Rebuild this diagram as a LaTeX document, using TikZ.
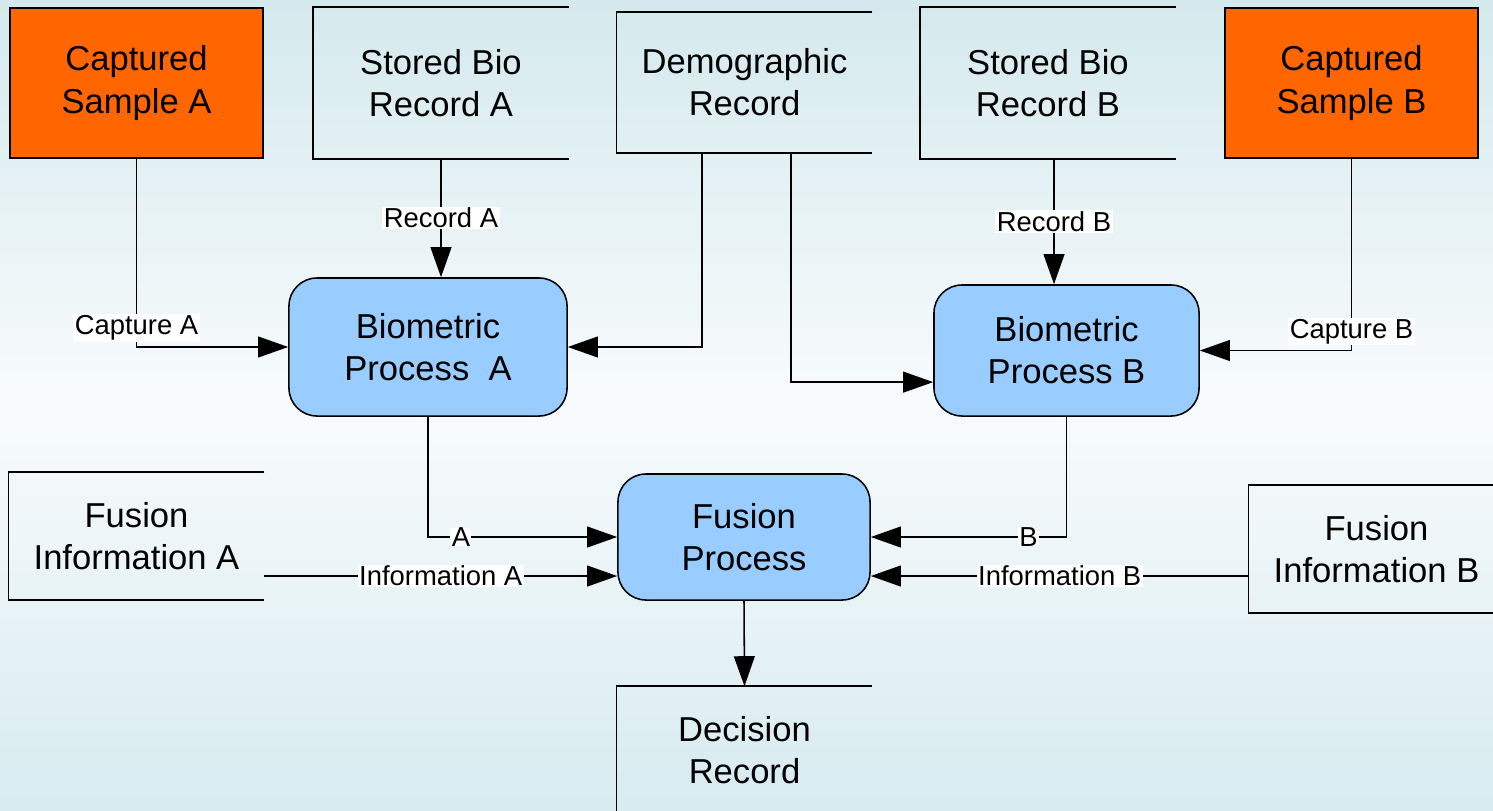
\documentclass[tikz,border=0pt]{standalone}
\usepackage{fontspec}
\setmainfont{Liberation Sans}
\usetikzlibrary{arrows.meta}
\usetikzlibrary{positioning}
\definecolor{samplered}{HTML}{FF6600}
\definecolor{procblue}{HTML}{99CCFF}
\definecolor{bgtop}{RGB}{212,233,237}
\definecolor{bgmid}{RGB}{248,251,252}
\definecolor{bgbot}{RGB}{215,235,240}

\begin{document}
\begin{tikzpicture}[x=0.025cm,y=-0.025cm,>={Triangle[length=0.75cm,width=0.52cm]},line width=1.1pt]
	\tikzset{boxtext/.style = {align=center, font=\fontsize{24.6}{30}\selectfont, inner sep=0pt},
		process/.style = {boxtext, shape=rectangle, rounded corners=0.7cm, draw, fill=procblue},
		sample/.style = {boxtext, shape=rectangle, draw, fill=samplered, minimum width=6.325cm, minimum height=3.75cm},
		store/.style = {boxtext, shape=rectangle, minimum width=6.35cm},
		flowlabel/.style = {fill=white, inner sep=1pt, font=\fontsize{19.5}{23}\selectfont}}
	\useasboundingbox (0,0) rectangle (1493,810);
	\shade[top color=bgtop, bottom color=bgbot, middle color=bgmid] (0,0) rectangle (1493,810);
	\clip (0,0) rectangle (1493,810);
	
	% inputs
	\node[sample] (CAPA) at (136.5,83) {Captured\\Sample A};
	\node[store, minimum height=3.75cm] (STOA) at (441,83) {Stored Bio\\Record A};
	\node[store, minimum height=3.475cm] (DEMO) at (744.5,82.5) {Demographic\\Record};
	\node[store, minimum height=3.75cm] (STOB) at (1048,83) {Stored Bio\\Record B};
	\node[sample] (CAPB) at (1351.5,83) {Captured\\Sample B};
	
	% processes
	\node[process, minimum width=6.95cm, minimum height=3.45cm] (BIOA) at (428,347) {Biometric\\Process~~A};
	\node[process, minimum width=6.625cm, minimum height=3.275cm] (BIOB) at (1066.5,350.5) {Biometric\\Process B};
	\node[process, minimum width=6.3cm, minimum height=3.15cm] (FUS) at (744,537) {Fusion\\Process};
	
	% fusion data and result
	\node[store, minimum height=3.15cm] (FIA) at (136.5,536) {Fusion\\Information A};
	\node[store, minimum height=3.15cm] (FIB) at (1376.5,549) {Fusion\\Information B};
	\node[store, minimum height=3.15cm] (DEC) at (744.5,750) {Decision\\Record};
	
	\foreach \s in {STOA,DEMO,STOB,FIA,FIB,DEC}
	\draw (\s.north east) -- (\s.north west) -- (\s.south west) -- (\s.south east);
	
	% flows
	\draw[->] (CAPA.south) |- (BIOA.west) node[flowlabel, pos=0.45] {Capture A};
	\draw[->] (STOA.south) -- (STOA.south |- BIOA.north) node[flowlabel, midway] {Record A};
	\draw[->] ([xshift=-1.06cm]DEMO.south) |- (BIOA.east);
	\draw[->] ([xshift=1.16cm]DEMO.south) |- ([yshift=-0.79cm]BIOB.west);
	\draw[->] ([xshift=0.15cm]STOB.south) -- ([xshift=0.15cm]STOB.south |- BIOB.north) node[flowlabel, midway] {Record B};
	\draw[->] (CAPB.south) |- (BIOB.east) node[flowlabel, pos=0.45] {Capture B};
	
	\draw[->] (BIOA.south) |- (FUS.west) node[flowlabel, pos=0.587, inner ysep=0pt] {A};
	\draw[->] (BIOB.south) |- (FUS.east) node[flowlabel, pos=0.597, inner ysep=0pt] {B};
	\coordinate (INA) at ([yshift=-0.975cm]FUS.west);
	\coordinate (INB) at ([yshift=-0.975cm]FUS.east);
	\draw[->] (INA -| FIA.east) -- (INA) node[flowlabel, midway] {Information A};
	\draw[->] (INB -| FIB.west) -- (INB) node[flowlabel, midway] {Information B};
	
	\draw[->] (FUS.south) -- (DEC.north);
	
\end{tikzpicture}
\end{document}
